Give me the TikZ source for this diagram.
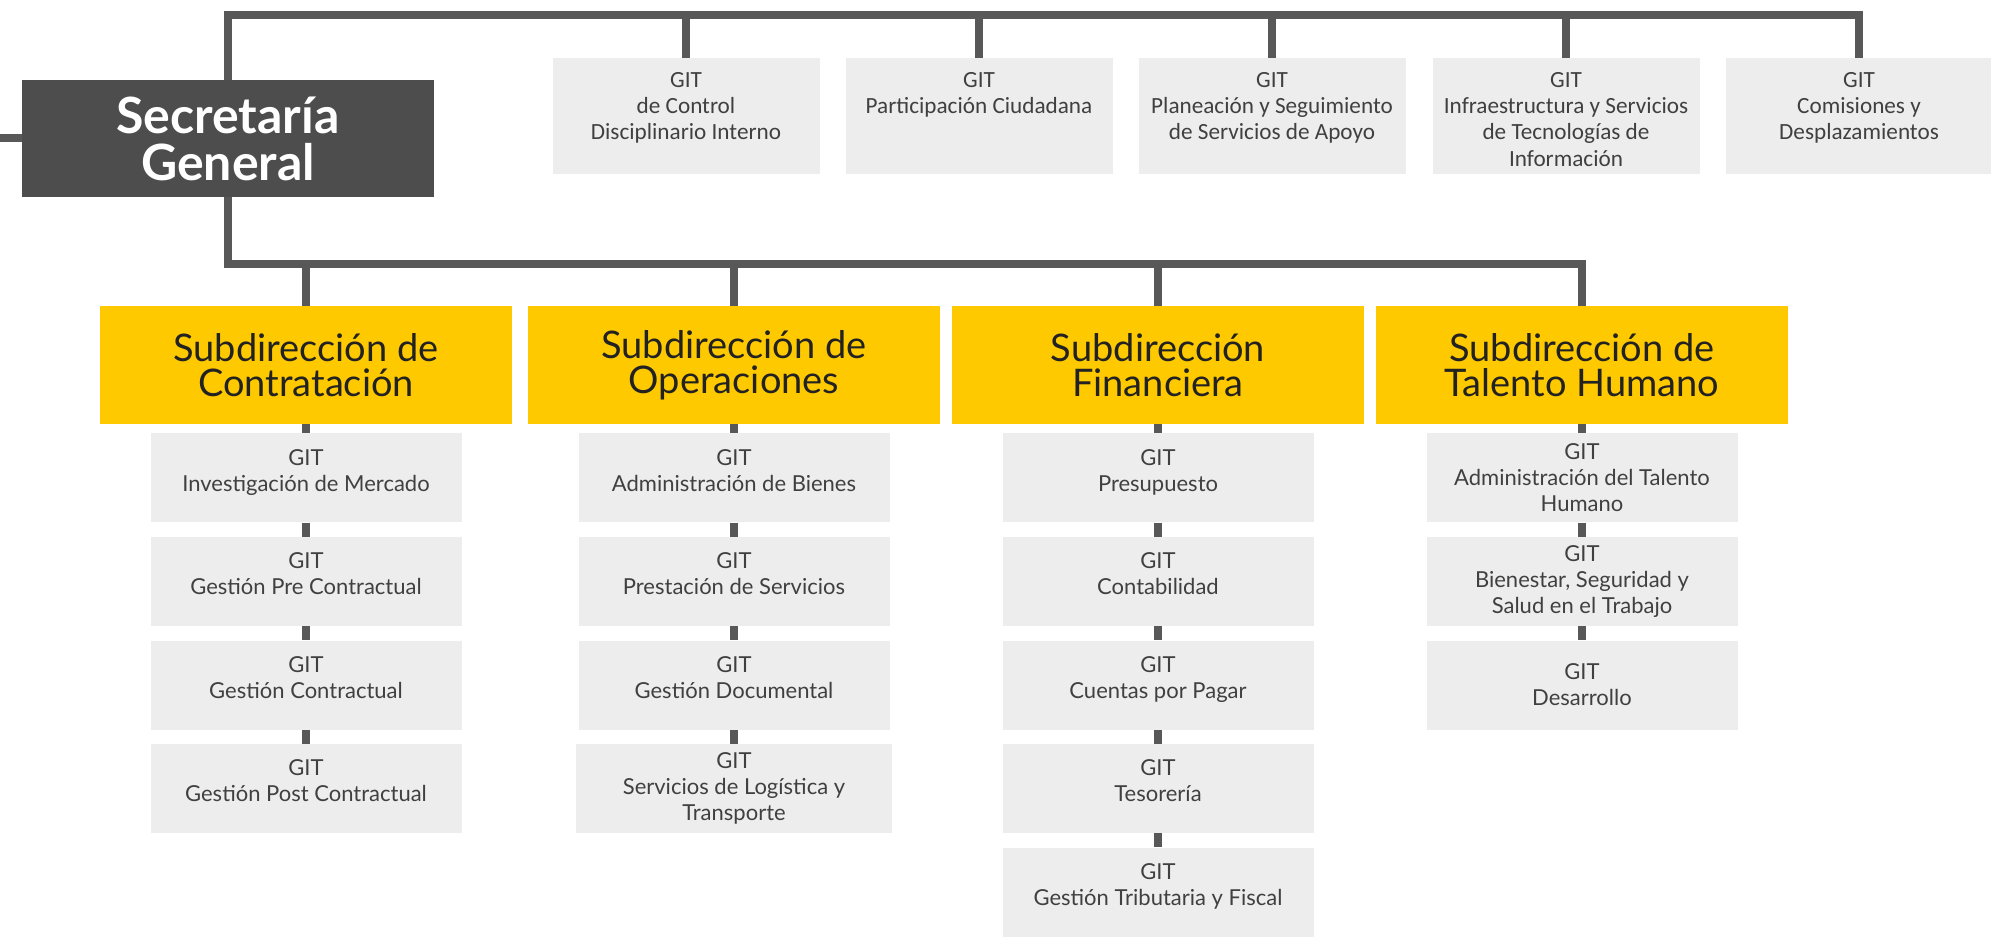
\documentclass[tikz,border=0pt]{standalone}
\usepackage{fontspec}
\setmainfont{Lato}
\newfontfamily\condfont{Carlito}
\definecolor{secgray}{HTML}{4D4D4D}
\definecolor{linegray}{HTML}{585858}
\definecolor{gitgray}{HTML}{EDEDED}
\definecolor{gittext}{HTML}{404040}
\definecolor{subyellow}{HTML}{FFC900}
\definecolor{subtext}{HTML}{222222}
\tikzset{
  conn/.style={draw=linegray, line width=4pt},
  secbox/.style={fill=secgray, text=white, font=\fontsize{25}{23.5}\selectfont\bfseries, minimum width=206pt, minimum height=58.5pt, align=center, inner sep=0pt},
  subbox/.style={fill=subyellow, text=subtext, font=\fontsize{19}{17.5}\selectfont, minimum width=206pt, minimum height=59pt, align=center, inner sep=0pt},
  topgit/.style={fill=gitgray, minimum width=133.5pt, minimum height=58pt, inner sep=0pt},
  toptext/.style={text=gittext, font=\condfont\fontsize{11.6}{13.2}\selectfont, align=center, anchor=north, inner sep=0pt, yshift=-7pt},
  git/.style={fill=gitgray, text=gittext, font=\fontsize{11}{13}\selectfont, minimum width=155.5pt, minimum height=44.5pt, align=center, inner sep=0pt},
  git2/.style={git, text depth=7.5pt}
}
\begin{document}
\begin{tikzpicture}[x=0.5pt, y=-0.5pt]
\useasboundingbox (0,0) rectangle (1991,951);
\node[secbox] (sec) at (228,138.5) {Secretaría\\General};
\coordinate (lstub) at (0,138.5);
\coordinate (tbar) at (228,15);
\coordinate (bbar) at (228,264);
\node[topgit] (top1) at (686,116) {};
\node[topgit] (top2) at (979,116) {};
\node[topgit] (top3) at (1272,116) {};
\node[topgit] (top4) at (1566,116) {};
\node[topgit] (top5) at (1859,116) {};
\node[toptext] (top1txt) at (top1.north) {GIT\\de Control\\Disciplinario Interno};
\node[toptext] (top2txt) at (top2.north) {GIT\\Participación Ciudadana};
\node[toptext] (top3txt) at (top3.north) {GIT\\Planeación y Seguimiento\\de Servicios de Apoyo};
\node[toptext] (top4txt) at (top4.north) {GIT\\Infraestructura y Servicios\\de Tecnologías de\\Información};
\node[toptext] (top5txt) at (top5.north) {GIT\\Comisiones y\\Desplazamientos};
\node[subbox] (sub1) at (306,365) {Subdirección de\\Contratación};
\node[subbox] (sub2) at (734,365) {Subdirección de\\Operaciones};
\node[subbox] (sub3) at (1158,365) {Subdirección\\Financiera};
\node[subbox] (sub4) at (1582,365) {Subdirección de\\Talento Humano};
\node[git2] (con1) at (306,478) {GIT\\Investigación de Mercado};
\node[git2] (con2) at (306,581.5) {GIT\\Gestión Pre Contractual};
\node[git2] (con3) at (306,685) {GIT\\Gestión Contractual};
\node[git2] (con4) at (306,788.5) {GIT\\Gestión Post Contractual};
\node[git2] (ope1) at (734,478) {GIT\\Administración de Bienes};
\node[git2] (ope2) at (734,581.5) {GIT\\Prestación de Servicios};
\node[git2] (ope3) at (734,685) {GIT\\Gestión Documental};
\node[git, minimum width=158pt] (ope4) at (734,788.5) {GIT\\Servicios de Logística y\\Transporte};
\node[git2] (fin1) at (1158,478) {GIT\\Presupuesto};
\node[git2] (fin2) at (1158,581.5) {GIT\\Contabilidad};
\node[git2] (fin3) at (1158,685) {GIT\\Cuentas por Pagar};
\node[git2] (fin4) at (1158,788.5) {GIT\\Tesorería};
\node[git2] (fin5) at (1158,892) {GIT\\Gestión Tributaria y Fiscal};
\node[git] (tal1) at (1582,478) {GIT\\Administración del Talento\\Humano};
\node[git] (tal2) at (1582,581.5) {GIT\\Bienestar, Seguridad y\\Salud en el Trabajo};
\node[git] (tal3) at (1582,685) {GIT\\Desarrollo};
\draw[conn] (lstub) -- (sec.west);
\draw[conn] (sec.north) -- (tbar) -| (top5.north);
\draw[conn] (top1.north) -- (top1.north |- tbar);
\draw[conn] (top2.north) -- (top2.north |- tbar);
\draw[conn] (top3.north) -- (top3.north |- tbar);
\draw[conn] (top4.north) -- (top4.north |- tbar);
\draw[conn] (sec.south) -- (bbar) -| (sub4.north);
\draw[conn] (sub1.north) -- (sub1.north |- bbar);
\draw[conn] (sub2.north) -- (sub2.north |- bbar);
\draw[conn] (sub3.north) -- (sub3.north |- bbar);
\draw[conn] (sub1) -- (con1);
\draw[conn] (con1) -- (con2);
\draw[conn] (con2) -- (con3);
\draw[conn] (con3) -- (con4);
\draw[conn] (sub2) -- (ope1);
\draw[conn] (ope1) -- (ope2);
\draw[conn] (ope2) -- (ope3);
\draw[conn] (ope3) -- (ope4);
\draw[conn] (sub3) -- (fin1);
\draw[conn] (fin1) -- (fin2);
\draw[conn] (fin2) -- (fin3);
\draw[conn] (fin3) -- (fin4);
\draw[conn] (fin4) -- (fin5);
\draw[conn] (sub4) -- (tal1);
\draw[conn] (tal1) -- (tal2);
\draw[conn] (tal2) -- (tal3);
\end{tikzpicture}
\end{document}
